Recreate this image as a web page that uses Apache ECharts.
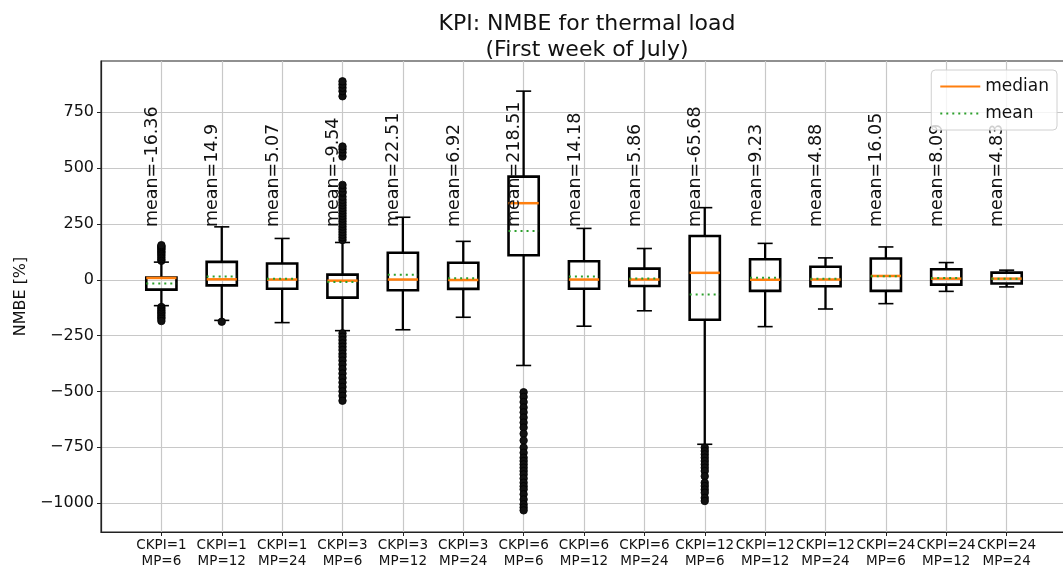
<!DOCTYPE html>
<html><head><meta charset="utf-8">
<script src="https://cdn.jsdelivr.net/npm/echarts@6/dist/echarts.min.js"></script>
<style>html,body{margin:0;padding:0;background:#fff}#c{width:1063px;height:566px}</style>
</head><body><div id="c"></div>
<script>
// ---- data ----
const categories = ['CKPI=1\nMP=6', 'CKPI=1\nMP=12', 'CKPI=1\nMP=24', 'CKPI=3\nMP=6', 'CKPI=3\nMP=12', 'CKPI=3\nMP=24',
  'CKPI=6\nMP=6', 'CKPI=6\nMP=12', 'CKPI=6\nMP=24', 'CKPI=12\nMP=6', 'CKPI=12\nMP=12', 'CKPI=12\nMP=24',
  'CKPI=24\nMP=6', 'CKPI=24\nMP=12', 'CKPI=24\nMP=24'];
const whiskerLow  = [-116, -182, -192, -228, -224, -168, -384, -208, -139, -737, -210, -131, -107, -52, -32];
const q1          = [-44, -25, -40, -80, -47, -41, 110, -40, -28, -179, -50, -29, -50, -22, -17];
const median      = [8, 2, 1, -4, 1, -1, 343, 1, 1, 31, 0, 1, 17, 5, 5];
const q3          = [10, 80, 73, 23, 121, 76, 462, 83, 50, 196, 92, 58, 95, 47, 32];
const whiskerHigh = [79, 237, 185, 167, 280, 172, 845, 230, 140, 323, 163, 98, 147, 77, 43];
const means       = [-16.36, 14.9, 5.07, -9.54, 22.51, 6.92, 218.51, 14.18, 5.86, -65.68, 9.23, 4.88, 16.05, 8.09, 4.83];
const fliers = [
  [85, 92, 100, 108, 115, 122, 128, 135, 140, 146, 150, 155, -122, -130, -138, -145, -152, -160, -168, -175, -185],
  [-188],
  [],
  [178, 190, 202, 214, 226, 238, 250, 262, 274, 286, 298, 310, 322, 334, 346, 358, 372, 389, 395, 410, 425,
   552, 570, 585, 597, 822, 845, 860, 875, 889,
   -240, -255, -270, -285, -300, -315, -332, -345, -362, -380, -400, -420, -440, -460, -480, -500, -520, -542],
  [],
  [],
  [-504, -525, -548, -572, -594, -617, -640, -662, -690, -720, -752, -775, -797, -812, -827, -842, -857, -872,
   -890, -909, -925, -939, -961, -984, -1006, -1020, -1033],
  [],
  [],
  [-752, -767, -782, -797, -812, -827, -842, -857, -880, -909, -924, -940, -954, -977, -991],
  [],
  [],
  [],
  [],
  []
];
const yTickValues = [-1000, -750, -500, -250, 0, 250, 500, 750];

// ---- chart ----
const FONT = 'DejaVu Sans';
const LABEL_Y = 236;
const axisCats = [''].concat(categories, ['']);
const boxData = categories.map((c, i) => [i + 1, whiskerLow[i], q1[i], median[i], q3[i], whiskerHigh[i], means[i]]);
const flierData = [];
fliers.forEach((arr, i) => arr.forEach(v => flierData.push([i + 1, v])));

function renderBox(params, api) {
  const i = params.dataIndex;
  const x = api.value(0);
  const lo = api.coord([x, api.value(1)]);
  const b1 = api.coord([x, api.value(2)]);
  const md = api.coord([x, api.value(3)]);
  const b3 = api.coord([x, api.value(4)]);
  const hi = api.coord([x, api.value(5)]);
  const mn = api.coord([x, api.value(6)]);
  const lab = api.coord([x, LABEL_Y]);
  const band = api.size([1, 0])[0];
  const bw = band * 0.5, cw = band * 0.25;
  const cx = lo[0];
  const k = '#000';
  return {
    type: 'group',
    children: [
      { type: 'line', shape: { x1: cx, y1: b1[1], x2: cx, y2: lo[1] }, style: { stroke: k, lineWidth: 2.3 } },
      { type: 'line', shape: { x1: cx, y1: b3[1], x2: cx, y2: hi[1] }, style: { stroke: k, lineWidth: 2.3 } },
      { type: 'line', shape: { x1: cx - cw / 2, y1: lo[1], x2: cx + cw / 2, y2: lo[1] }, style: { stroke: k, lineWidth: 1.6 } },
      { type: 'line', shape: { x1: cx - cw / 2, y1: hi[1], x2: cx + cw / 2, y2: hi[1] }, style: { stroke: k, lineWidth: 1.6 } },
      { type: 'rect', shape: { x: cx - bw / 2, y: b3[1], width: bw, height: b1[1] - b3[1] }, style: { fill: 'none', stroke: k, lineWidth: 2.6 } },
      { type: 'line', shape: { x1: cx - bw / 2, y1: md[1], x2: cx + bw / 2, y2: md[1] }, style: { stroke: '#ff7f0e', lineWidth: 2.5 } },
      { type: 'line', shape: { x1: cx - bw / 2, y1: mn[1], x2: cx + bw / 2, y2: mn[1] }, style: { stroke: '#2ca02c', lineWidth: 2, lineDash: [2, 4] } },
      { type: 'text', x: cx - 9, y: lab[1], rotation: Math.PI / 2,
        style: { text: 'mean=' + String(means[i]), fill: '#111', fontSize: 17.5, fontFamily: FONT, align: 'left', verticalAlign: 'middle' } }
    ]
  };
}

const chart = echarts.init(document.getElementById('c'), null, { renderer: 'canvas' });
chart.setOption({
  animation: false,
  backgroundColor: '#fff',
  title: {
    text: 'KPI: NMBE for thermal load\n(First week of July)',
    left: 582, top: 6, textAlign: 'center',
    textStyle: { fontFamily: FONT, fontSize: 22, fontWeight: 'normal', color: '#111', lineHeight: 26 }
  },
  legend: {
    orient: 'vertical', right: 6, top: 70,
    data: [{ name: 'median' }, { name: 'mean' }],
    itemWidth: 40, itemHeight: 16, itemGap: 10,
    padding: [8, 8, 8, 8],
    itemStyle: { opacity: 0 },
    backgroundColor: 'rgba(255,255,255,0.8)', borderColor: '#d0d0d0', borderWidth: 1, borderRadius: 4,
    textStyle: { fontFamily: FONT, fontSize: 17, color: '#111' }
  },
  grid: { left: 101, top: 61, width: 966, height: 471, show: true, borderColor: '#222', borderWidth: 1.2, outerBoundsMode: 'none', containLabel: false },
  xAxis: {
    type: 'category', data: axisCats, boundaryGap: false,
    axisLine: { onZero: false, lineStyle: { color: '#222', width: 1.2 } },
    axisTick: { show: true, length: 4, interval: (idx) => idx > 0 && idx < axisCats.length - 1, lineStyle: { color: '#222' } },
    axisLabel: { interval: 0, fontFamily: FONT, fontSize: 13.5, lineHeight: 16, color: '#111', margin: 5 },
    splitLine: { show: true, lineStyle: { color: '#c8c8c8', width: 1.2 } }
  },
  yAxis: {
    type: 'value', min: -1130, max: 980, minInterval: 250, maxInterval: 250,
    name: 'NMBE [%]', nameLocation: 'middle', nameGap: 70,
    nameTextStyle: { fontFamily: FONT, fontSize: 16, color: '#111' },
    axisLine: { show: true, lineStyle: { color: '#222', width: 1.2 } },
    axisTick: { show: true, length: 4, customValues: yTickValues, lineStyle: { color: '#222' } },
    axisLabel: {
      fontFamily: FONT, fontSize: 16, color: '#111', margin: 7,
      formatter: (v) => (yTickValues.indexOf(v) >= 0 ? String(v).replace('-', '\u2212') : '')
    },
    splitLine: { show: true, lineStyle: { color: '#c8c8c8', width: 1.2 } }
  },
  series: [
    { type: 'custom', name: 'boxes', renderItem: renderBox, data: boxData, encode: { x: 0, y: [1, 2, 3, 4, 5] }, z: 3 },
    { type: 'scatter', name: 'fliers', data: flierData, symbol: 'circle', symbolSize: 7.5,
      itemStyle: { color: '#111', borderColor: '#000', borderWidth: 0.8, opacity: 1 }, z: 4 },
    { type: 'line', name: 'median', data: [], symbol: 'none', lineStyle: { color: '#ff7f0e', width: 2.5 }, itemStyle: { color: '#ff7f0e' } },
    { type: 'line', name: 'mean', data: [], symbol: 'none', lineStyle: { color: '#2ca02c', width: 2, type: [2, 4] }, itemStyle: { color: '#2ca02c' } }
  ]
});
</script>
</body></html>
